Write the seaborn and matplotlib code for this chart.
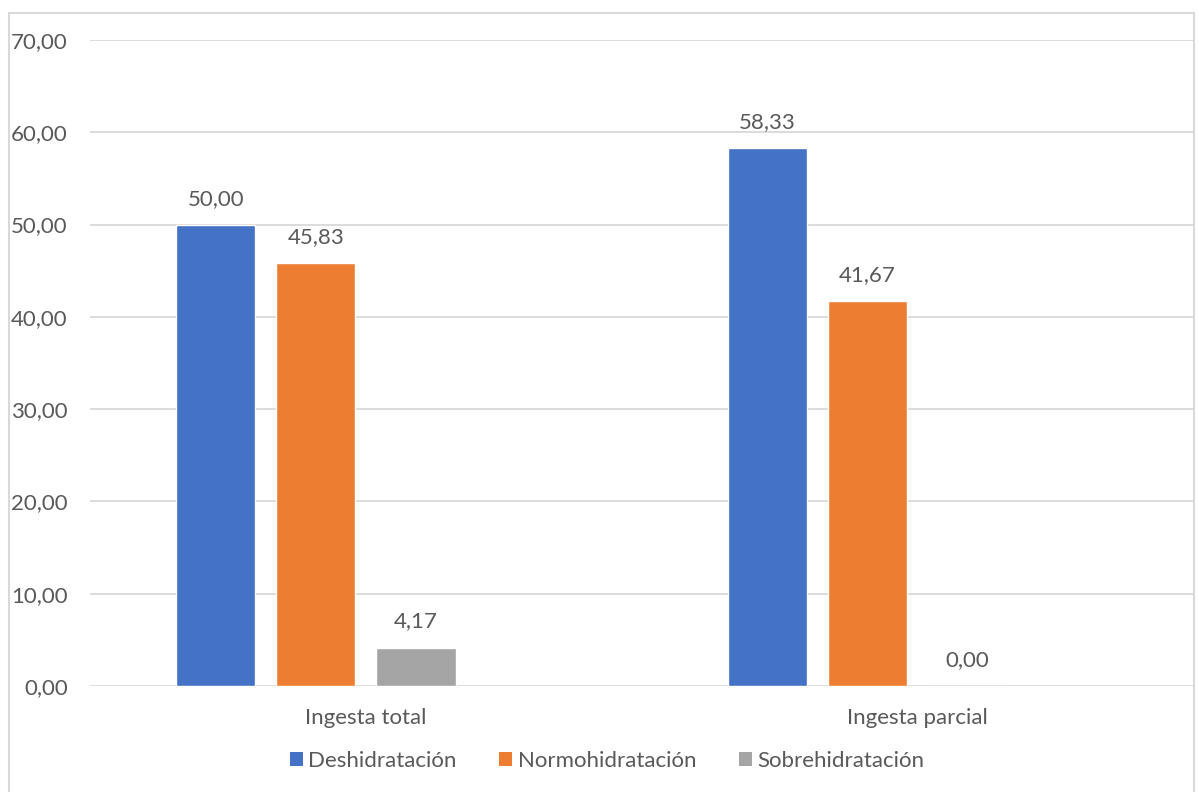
import matplotlib
matplotlib.use("Agg")
import matplotlib.pyplot as plt
from matplotlib.patches import Rectangle, Patch
import seaborn as sns
import pandas as pd

categories = ["Ingesta total", "Ingesta parcial"]
deshidratacion = [50.00, 58.33]
normohidratacion = [45.83, 41.67]
sobrehidratacion = [4.17, 0.00]
series_names = ["Deshidratación", "Normohidratación", "Sobrehidratación"]
y_ticks = [0, 10, 20, 30, 40, 50, 60, 70]

colors = {"Deshidratación": "#4472C4",
          "Normohidratación": "#ED7D31",
          "Sobrehidratación": "#A5A5A5",
          " ": "#FFFFFF"}

rows = []
for name, vals in zip(series_names, [deshidratacion, normohidratacion, sobrehidratacion]):
    for cat, v in zip(categories, vals):
        rows.append({"grupo": cat, "serie": name, "valor": v})
df = pd.DataFrame(rows)

sns.set_theme(style="white")
plt.rcParams["font.family"] = ["Lato", "DejaVu Sans"]
text_color = "#595959"
fs = 16

fig = plt.figure(figsize=(11.99, 7.92), dpi=100)
W, H = 1199, 792
ax = fig.add_axes([90 / W, 106 / H, (1193.5 - 90) / W, (686 - 40) / H])

# An empty fourth slot keeps each group of bars offset to the left
hue_order = series_names + [" "]
sns.barplot(data=df, x="grupo", y="valor", hue="serie", hue_order=hue_order,
            order=categories, palette=colors, width=0.726, gap=0.21,
            saturation=1, legend=False, ax=ax, errorbar=None)

ax.set_xlim(-0.5, 1.5)
ax.set_ylim(0, 70)
ax.set_yticks(y_ticks)
ax.set_yticklabels([f"{t:.2f}".replace(".", ",") for t in y_ticks])
ax.yaxis.grid(True, color="#D9D9D9", linewidth=1.3)
ax.set_axisbelow(True)
for s in ax.spines.values():
    s.set_visible(False)
ax.tick_params(axis="y", length=0, pad=16, labelsize=fs, labelcolor=text_color)
ax.tick_params(axis="x", length=0, pad=16, labelsize=fs, labelcolor=text_color)
ax.set_xlabel("")
ax.set_ylabel("")

# Value labels above each bar
for container, name in zip(ax.containers, series_names):
    vals = df[df["serie"] == name]["valor"].tolist()
    for bar, v in zip(container, vals):
        ax.annotate(f"{v:.2f}".replace(".", ","),
                    (bar.get_x() + bar.get_width() / 2, v),
                    xytext=(0, 11.5), textcoords="offset points",
                    ha="center", va="bottom", fontsize=fs, color=text_color)

handles = [Patch(facecolor=colors[n], edgecolor="none") for n in series_names]
fig.legend(handles, series_names, loc="center", bbox_to_anchor=(607 / W, 1 - 761 / H),
           ncol=3, frameon=False, fontsize=fs, handlelength=0.6, handleheight=0.6,
           handletextpad=0.25, columnspacing=1.9, labelcolor=text_color)

# Chart area border
fig.patches.append(Rectangle((9 / W, -0.01), (1194 - 9) / W, 1.01 - 13 / H,
                             transform=fig.transFigure, fill=False,
                             edgecolor="#D9D9D9", linewidth=1.5))

fig.savefig("out.png", dpi=100)
